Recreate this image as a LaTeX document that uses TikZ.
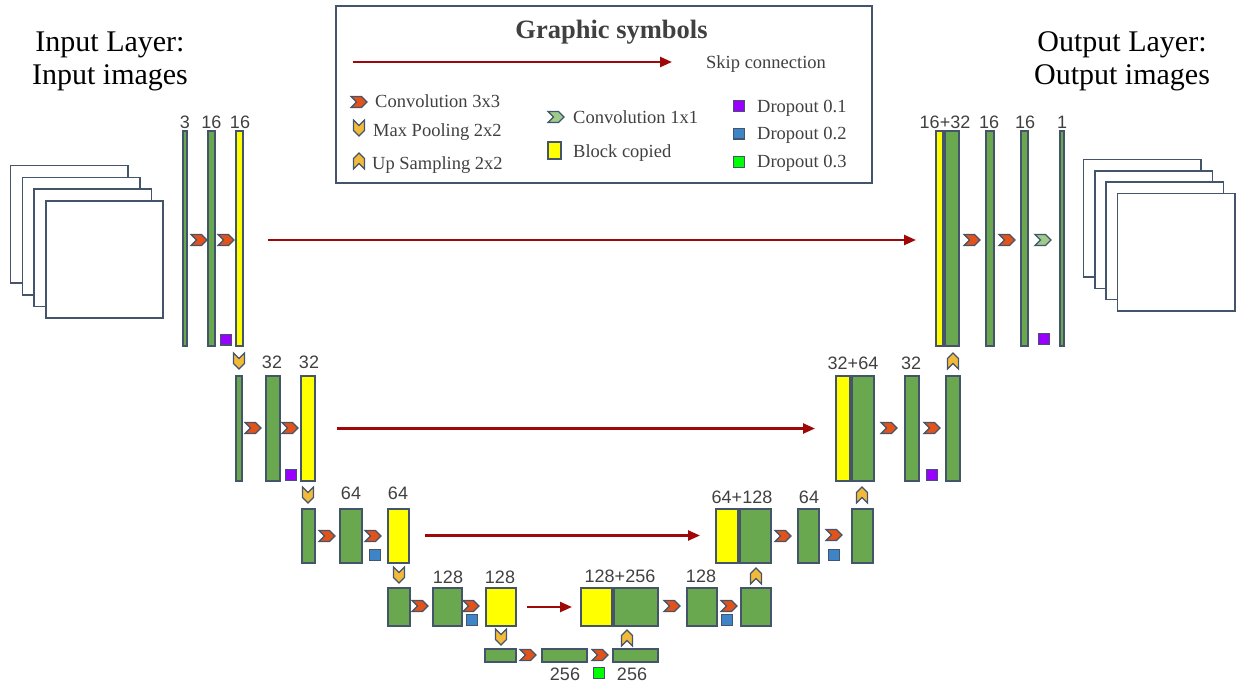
\documentclass[tikz,border=0pt]{standalone}
\usepackage{fontspec}
\setmainfont{Liberation Serif}
\newfontfamily\numfont{Liberation Sans}
\usetikzlibrary{arrows.meta}

\definecolor{edge}{HTML}{44546A}
\definecolor{barg}{HTML}{6AA84F}
\definecolor{bary}{HTML}{FFFF00}
\definecolor{convc}{HTML}{E2531B}
\definecolor{poolc}{HTML}{F2BA3A}
\definecolor{onec}{HTML}{9CCB8C}
\definecolor{dropa}{HTML}{9900FF}
\definecolor{dropb}{HTML}{3D85C6}
\definecolor{dropc}{HTML}{00FF00}
\definecolor{skipc}{HTML}{9E0808}
\definecolor{txtc}{HTML}{404040}

% one feature-map block: name, style, x1, x2, y1, y2 (outer edges)
\newcommand\unetbox[6]{%
  \node[#2, minimum width={#4pt-#3pt-1.6pt}, minimum height={#6pt-#5pt-1.6pt}]
    (#1) at ({(#3+#4)/2},{(#5+#6)/2}) {};}

\tikzset{
  blk/.style={draw=edge, line width=1.6pt, inner sep=0pt, outer sep=0pt},
  gb/.style={blk, fill=barg},
  yb/.style={blk, fill=bary},
  img/.style={draw=edge, line width=1.6pt, fill=white, inner sep=0pt, minimum size=117.4pt},
  lbl/.style={font=\numfont\fontsize{18}{18}\selectfont, text=txtc, inner sep=0pt, anchor=base},
  leg/.style={font=\fontsize{18.5}{20}\selectfont, text=txtc, inner sep=0pt, anchor=base west},
  head/.style={font=\fontsize{30}{33}\selectfont, text=black, inner sep=0pt, anchor=base},
  skip/.style={draw=skipc, line width=2.4pt, -{Triangle[length=12pt,width=10pt]}},
  drop/.style={draw=edge, line width=1.2pt, minimum size=10.8pt, inner sep=0pt},
  chev/.style={draw=edge, line width=1.2pt, line join=miter},
  pics/convchev/.style={code={\path[chev, fill=convc]
    (-8,-5.5) -- (2.5,-5.5) -- (8,0) -- (2.5,5.5) -- (-8,5.5) -- (-2.5,0) -- cycle;}},
  pics/onechev/.style={code={\path[chev, fill=onec]
    (-8,-5.5) -- (2.5,-5.5) -- (8,0) -- (2.5,5.5) -- (-8,5.5) -- (-2.5,0) -- cycle;}},
  pics/poolchev/.style={code={\path[chev, fill=poolc, rotate=-90]
    (-8,-5.5) -- (2.5,-5.5) -- (8,0) -- (2.5,5.5) -- (-8,5.5) -- (-2.5,0) -- cycle;}},
  pics/upchev/.style={code={\path[chev, fill=poolc, rotate=90]
    (-8,-5.5) -- (2.5,-5.5) -- (8,0) -- (2.5,5.5) -- (-8,5.5) -- (-2.5,0) -- cycle;}},
}

\begin{document}
\begin{tikzpicture}[x=1pt,y=-1pt]
\useasboundingbox (0,0) rectangle (1242,688);

% ---------- legend ----------
\node[draw=edge, line width=2pt, minimum width=536pt, minimum height=177pt, inner sep=0pt]
  (legend) at (604,94.5) {};
\node[font=\bfseries\fontsize{26.5}{28}\selectfont, text=txtc, inner sep=0pt, anchor=base]
  (legtitle) at (611.5,38) {Graphic symbols};
\coordinate (ls0) at (353,62);
\coordinate (ls1) at (672,62);
\draw[skip] (ls0) -- (ls1);
\node[leg] (legskip) at (706,68) {Skip connection};

\pic at (359,102) {convchev};
\node[leg] (legc3) at (375,107) {Convolution 3x3};
\pic at (359,128) {poolchev};
\node[leg] (legmp) at (373,136) {Max Pooling 2x2};
\pic at (359,161) {upchev};
\node[leg] (legup) at (372,169) {Up Sampling 2x2};

\pic at (556,117) {onechev};
\node[leg] (legc1) at (573,123) {Convolution 1x1};
\node[blk, fill=bary, minimum width=13.4pt, minimum height=17.4pt] (legcp) at (554.5,150.5) {};
\node[leg] (legbc) at (573,157) {Block copied};

\node[drop, fill=dropa] (legd1) at (739,106) {};
\node[leg] (legd1t) at (757,112) {Dropout 0.1};
\node[drop, fill=dropb] (legd2) at (739,133.5) {};
\node[leg] (legd2t) at (757,139) {Dropout 0.2};
\node[drop, fill=dropc] (legd3) at (739,162) {};
\node[leg] (legd3t) at (757,167) {Dropout 0.3};

% ---------- input / output image stacks ----------
\foreach \k/\n in {0/in1,1/in2,2/in3,3/in4}
  \node[img, anchor=north west] (\n) at ({9.8+11.7*\k},{164.8+11.7*\k}) {};
\foreach \k/\n in {0/out1,1/out2,2/out3,3/out4}
  \node[img, anchor=north west] (\n) at ({1082.8+11.3*\k},{158.8+11.3*\k}) {};

\node[head] (inl1) at (110,51) {Input Layer:};
\node[head] (inl2) at (110,84) {Input images};
\node[head] (outl1) at (1122,51) {Output Layer:};
\node[head] (outl2) at (1122,84) {Output images};

% ---------- encoder ----------
\unetbox{a1}{gb}{182}{188}{130}{347}
\unetbox{a2}{gb}{207}{216}{130}{347}
\unetbox{a3}{yb}{235}{244}{130}{347}

\unetbox{b1}{gb}{235}{243}{375}{482}
\unetbox{b2}{gb}{265}{281}{375}{482}
\unetbox{b3}{yb}{300}{316}{375}{482}

\unetbox{c1}{gb}{301}{316}{508}{564}
\unetbox{c2}{gb}{339}{363}{508}{564}
\unetbox{c3}{yb}{387}{410}{508}{564}

\unetbox{d1}{gb}{387}{411}{587}{627}
\unetbox{d2}{gb}{432}{463}{587}{627}
\unetbox{d3}{yb}{485}{517}{587}{627}

% ---------- bottleneck ----------
\unetbox{e1}{gb}{484}{517}{648}{663}
\unetbox{e2}{gb}{541}{588}{648}{663}
\unetbox{e3}{gb}{612}{659}{648}{663}

% ---------- decoder ----------
\unetbox{r4a}{yb}{580}{613}{587}{627}
\unetbox{r4b}{gb}{613}{659}{587}{627}
\unetbox{r4c}{gb}{686}{718}{587}{627}
\unetbox{r4d}{gb}{740}{772}{587}{627}

\unetbox{r3a}{yb}{715}{739}{508}{564}
\unetbox{r3b}{gb}{739}{772}{508}{564}
\unetbox{r3c}{gb}{797}{820}{508}{564}
\unetbox{r3d}{gb}{851}{874}{508}{564}

\unetbox{r2a}{yb}{835}{851}{375}{482}
\unetbox{r2b}{gb}{851}{875}{375}{482}
\unetbox{r2c}{gb}{904}{920}{375}{482}
\unetbox{r2d}{gb}{945}{961}{375}{482}

\unetbox{r1a}{yb}{935}{944}{130}{347}
\unetbox{r1b}{gb}{944}{960}{130}{347}
\unetbox{r1c}{gb}{985}{995}{130}{347}
\unetbox{r1d}{gb}{1020}{1029}{130}{347}
\unetbox{r1e}{gb}{1059}{1065}{130}{347}

% ---------- 3x3 convolutions ----------
\foreach \p in {(199,240),(226,240),(253,428),(290,428),(327,536),(373,536),
                (420,606),(471,606),(528,655),(600,655),(672,606),(729,606),
                (783,536),(834,535),(889,428),(932,428),(972,240),(1007,240)}
  \pic at \p {convchev};
\pic at (1043,240) {onechev};

% ---------- pooling and up sampling ----------
\foreach \p in {(239,361),(308,495),(399,575),(501,637)}
  \pic at \p {poolchev};
\foreach \p in {(627,638),(756,576),(862,495),(953,361)}
  \pic at \p {upchev};

% ---------- dropout ----------
\node[drop, fill=dropa] (da1) at (226,339.5) {};
\node[drop, fill=dropa] (da2) at (291,475) {};
\node[drop, fill=dropa] (da3) at (932,475) {};
\node[drop, fill=dropa] (da4) at (1044,339) {};
\node[drop, fill=dropb] (db1) at (375,555) {};
\node[drop, fill=dropb] (db2) at (472,620) {};
\node[drop, fill=dropb] (db3) at (727,620) {};
\node[drop, fill=dropb] (db4) at (834,555) {};
\node[drop, fill=dropc] (dc1) at (599,673) {};

% ---------- skip connections ----------
\draw[skip, shorten <=24.8pt, shorten >=19.8pt] ([yshift=-1.5pt]a3.east) -- ([yshift=-1.5pt]r1a.west);
\draw[skip, shorten <=21.8pt, shorten >=20.8pt] (b3.east) -- (r2a.west);
\draw[skip, shorten <=15.8pt, shorten >=15.8pt] ([yshift=0.5pt]c3.east) -- ([yshift=0.5pt]r3a.west);
\draw[skip, shorten <=10.8pt, shorten >=8.8pt] (d3.east) -- (r4a.west);

% ---------- channel counts ----------
\node[lbl] (ta1) at (185,128) {3};
\node[lbl] (ta2) at (211.5,128) {16};
\node[lbl] (ta3) at (240,128) {16};
\node[lbl] (tb2) at (272,368) {32};
\node[lbl] (tb3) at (309,368) {32};
\node[lbl] (tc2) at (351,499) {64};
\node[lbl] (tc3) at (398,499) {64};
\node[lbl] (td2) at (448,583) {128};
\node[lbl] (td3) at (500,583) {128};
\node[lbl] (te2) at (565,680) {256};
\node[lbl] (te3) at (632,680) {256};
\node[lbl] (tr4a) at (620,582) {128+256};
\node[lbl] (tr4c) at (701,582) {128};
\node[lbl] (tr3a) at (742,503) {64+128};
\node[lbl] (tr3c) at (809,503) {64};
\node[lbl] (tr2a) at (853,369) {32+64};
\node[lbl] (tr2c) at (911,369) {32};
\node[lbl] (tr1a) at (945,128) {16+32};
\node[lbl] (tr1c) at (989,128) {16};
\node[lbl] (tr1d) at (1025,128) {16};
\node[lbl] (tr1e) at (1062,128) {1};
\end{tikzpicture}
\end{document}
